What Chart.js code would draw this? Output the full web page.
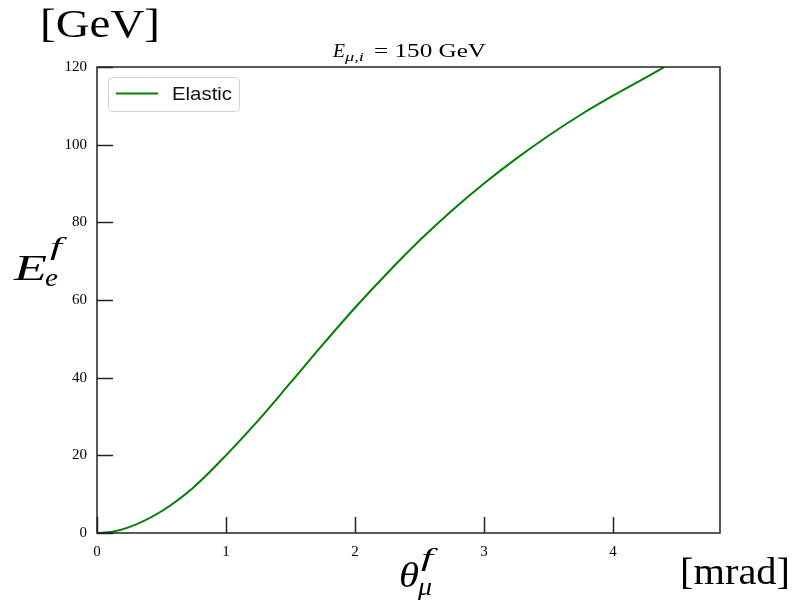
<!DOCTYPE html>
<html>
<head>
<meta charset="utf-8">
<script src="https://cdn.jsdelivr.net/npm/chart.js@4.4.1/dist/chart.umd.min.js"></script>
<style>
  html, body { margin: 0; padding: 0; background: #fff; }
  #wrap { width: 792px; height: 601px; }
</style>
</head>
<body>
<div id="wrap"><canvas id="c" width="792" height="601"></canvas></div>
<script>
// scattering angle of the muon [mrad] vs electron energy [GeV]
const thetaMu = [0, 0.12, 0.25, 0.5, 0.75, 1.0, 1.25, 1.5, 1.75, 2.0, 2.25, 2.5, 2.75, 3.0, 3.25, 3.5, 3.75, 4.0, 4.25, 4.4];
const energyE = [0, 0.35, 1.5, 5.6, 11.8, 20.0, 29.0, 38.7, 48.5, 58.0, 66.9, 75.3, 83.0, 90.0, 96.4, 102.3, 107.7, 112.6, 117.2, 120.0];
const xTicks = [0, 1, 2, 3, 4];
const yTicks = [0, 20, 40, 60, 80, 100, 120];
const seriesName = "Elastic";

const GREEN = "#008000";
const INK = "#222";
const SERIF = "'Liberation Serif', 'DejaVu Serif', serif";

// draw text squeezed/stretched to a given width
function fitText(ctx, txt, x, y, font, w) {
  ctx.save();
  ctx.font = font;
  const m = ctx.measureText(txt).width;
  ctx.translate(x, y);
  ctx.scale(w / m, 1);
  ctx.fillText(txt, 0, 0);
  ctx.restore();
}

const decor = {
  id: "decor",
  afterDraw(chart) {
    const ctx = chart.ctx;
    const a = chart.chartArea;
    const xs = chart.scales.x, ys = chart.scales.y;
    ctx.save();

    // frame
    ctx.strokeStyle = INK;
    ctx.lineWidth = 1.5;
    ctx.strokeRect(a.left, a.top, a.right - a.left, a.bottom - a.top);

    // inward ticks
    xTicks.forEach(v => {
      const px = Math.round(xs.getPixelForValue(v)) + 0.5;
      ctx.beginPath(); ctx.moveTo(px, a.bottom); ctx.lineTo(px, a.bottom - 16); ctx.stroke();
    });
    yTicks.forEach(v => {
      const py = Math.round(ys.getPixelForValue(v)) + 0.5;
      ctx.beginPath(); ctx.moveTo(a.left, py); ctx.lineTo(a.left + 16, py); ctx.stroke();
    });

    // legend
    const ds = chart.data.datasets[0];
    ctx.fillStyle = "rgba(255,255,255,0.85)";
    ctx.strokeStyle = "#d0d0d0";
    ctx.lineWidth = 1;
    ctx.beginPath();
    ctx.roundRect(108.5, 77.5, 131, 34, 4);
    ctx.fill(); ctx.stroke();
    ctx.strokeStyle = ds.borderColor;
    ctx.lineWidth = 2;
    ctx.beginPath(); ctx.moveTo(116, 93.5); ctx.lineTo(158, 93.5); ctx.stroke();
    ctx.fillStyle = "#111";
    ctx.textBaseline = "alphabetic";
    fitText(ctx, ds.label, 172, 100, "19px 'Liberation Sans', Arial, sans-serif", 60);

    // units and axis symbols
    ctx.fillStyle = "#000";
    fitText(ctx, "[GeV]", 40, 37, "40px " + SERIF, 120);
    fitText(ctx, "[mrad]", 680, 584, "38px " + SERIF, 110);

    // y symbol E_e^f
    fitText(ctx, "E", 14, 280, "italic 36px " + SERIF, 33);
    fitText(ctx, "f", 50, 255, "italic 26px " + SERIF, 12);
    fitText(ctx, "e", 45, 286, "italic 26px " + SERIF, 13);

    // x symbol theta_mu^f
    fitText(ctx, "θ", 399, 587, "italic 36px " + SERIF, 20);
    fitText(ctx, "f", 421, 566, "italic 26px " + SERIF, 12);
    fitText(ctx, "μ", 418, 595, "italic 26px " + SERIF, 14);

    // title E_{mu,i} = 150 GeV
    fitText(ctx, "E", 333, 57, "italic 18px " + SERIF, 12);
    fitText(ctx, "μ,i", 345, 61, "italic 12px " + SERIF, 19);
    fitText(ctx, "= 150 GeV", 374, 57, "18px " + SERIF, 112);

    ctx.restore();
  }
};

new Chart(document.getElementById("c"), {
  type: "scatter",
  data: {
    datasets: [{
      label: seriesName,
      data: thetaMu.map((t, i) => ({ x: t, y: energyE[i] })),
      showLine: true,
      borderColor: GREEN,
      backgroundColor: GREEN,
      borderWidth: 2,
      pointRadius: 0,
      cubicInterpolationMode: "monotone"
    }]
  },
  options: {
    responsive: false,
    animation: false,
    devicePixelRatio: 1,
    layout: { padding: { left: 0, top: 67, right: 72, bottom: 0 } },
    plugins: { legend: { display: false }, title: { display: false }, tooltip: { enabled: false } },
    scales: {
      x: {
        type: "linear", min: 0, max: 4.83,
        grid: { display: false, drawTicks: false },
        border: { display: false },
        ticks: { stepSize: 1, includeBounds: false, padding: 10, color: "#000", font: { family: SERIF, size: 15 } },
        afterFit: s => { s.height = 68; }
      },
      y: {
        type: "linear", min: 0, max: 120,
        grid: { display: false, drawTicks: false },
        border: { display: false },
        ticks: { stepSize: 20, padding: 10, color: "#000", font: { family: SERIF, size: 15 } },
        afterFit: s => { s.width = 97; }
      }
    }
  },
  plugins: [decor]
});
</script>
</body>
</html>
